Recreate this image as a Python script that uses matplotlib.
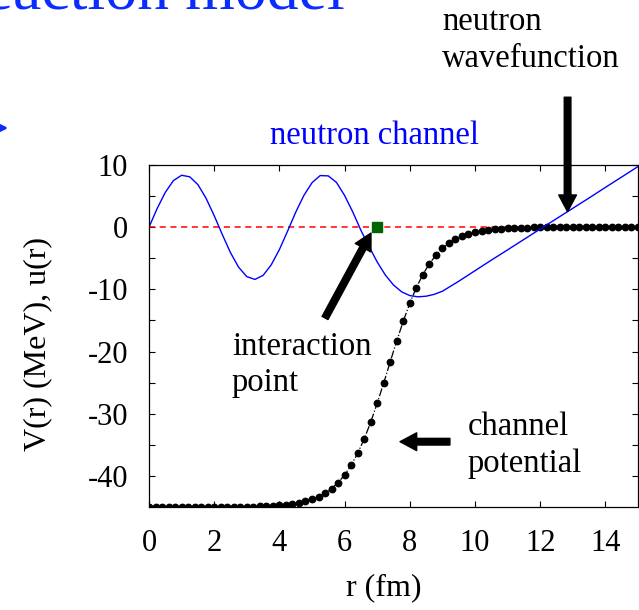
import matplotlib
matplotlib.use("Agg")
import matplotlib.pyplot as plt
import numpy as np

# neutron wavefunction u(r)
r_wave = [0.0, 0.25, 0.5, 0.75, 1.0, 1.25, 1.5, 1.75, 2.0, 2.25, 2.5, 2.75,
          3.0, 3.25, 3.5, 3.75, 4.0, 4.25, 4.5, 4.75, 5.0, 5.25, 5.5, 5.75,
          6.0, 6.25, 6.5, 6.75, 7.0, 7.25, 7.5, 7.75, 8.0, 8.25, 8.5, 8.75,
          9.0, 9.5, 10.0, 10.5, 11.0, 11.5, 12.0, 12.5, 13.0, 13.5, 14.0,
          14.5, 15.0]
u_wave = [0.0, 3.0, 5.6, 7.5, 8.35, 8.1, 6.85, 4.65, 1.85, -1.2, -4.1, -6.45,
          -7.95, -8.4, -7.75, -6.05, -3.6, -0.65, 2.4, 5.1, 7.15, 8.3, 8.25, 7.2,
          5.1, 2.45, -0.5, -3.1, -5.6, -7.7, -9.3, -10.4, -11.0, -11.2, -11.1,
          -10.8, -10.3, -8.7, -7.0, -5.3, -3.65, -1.97, -0.3, 1.37, 3.04, 4.7,
          6.4, 8.07, 9.75]

# channel potential V(r), sampled every 0.2 fm
r_pot = np.linspace(0, 15, 76)
v_pot = [-45.0] * 15 + [
    -44.94, -44.92, -44.89, -44.85, -44.79, -44.72, -44.62, -44.49, -44.31,
    -44.07, -43.76, -43.34, -42.78, -42.03, -41.08, -39.84, -38.29, -36.37,
    -34.07, -31.37, -28.33, -25.04, -21.64, -18.28, -15.11, -12.23, -9.73,
    -7.62, -5.89, -4.50, -3.41, -2.57, -1.93, -1.44, -1.07, -0.80, -0.59,
    -0.44, -0.33, -0.24, -0.18, -0.13, -0.10, -0.07, -0.05, -0.04, -0.03,
    -0.02, -0.02, -0.01] + [-0.01] * 11

r_point = [7.0]
v_point = [0.0]

x_ticks = [0, 2, 4, 6, 8, 10, 12, 14]
y_ticks = [-40, -30, -20, -10, 0, 10]
y_minor = [-35, -25, -15, -5, 5]

plt.rcParams['font.family'] = 'Liberation Serif'
plt.rcParams['axes.unicode_minus'] = False

fig = plt.figure(figsize=(6.39, 6.10), dpi=100)
ax = fig.add_axes([149/639, 103/610, 489/639, 342/610])

ax.axhline(0, color='#ff0000', lw=1.1, ls=(0, (4, 3)))
ax.plot(r_pot, v_pot, color='black', lw=0.9, ls='-.', marker='o', ms=4.6)
ax.plot(r_wave, u_wave, color='#0000ff', lw=1.0)
ax.plot(r_point, v_point, 's', color='#006400', ms=6.8, zorder=5)

ax.set_xlim(0, 15)
ax.set_ylim(-45, 10)
ax.set_xticks(x_ticks)
ax.set_yticks(y_ticks)
ax.set_yticks(y_minor, minor=True)
ax.tick_params(which='both', direction='in', top=True, right=True,
               length=4.5, width=0.8, labelsize=22)
ax.tick_params(axis='y', which='major', pad=15)
ax.tick_params(axis='x', which='major', pad=16)
for s in ax.spines.values():
    s.set_linewidth(0.9)

ax.set_xlabel('r (fm)', fontsize=23)
ax.xaxis.set_label_coords(0.48, -0.195)
ax.set_ylabel('V(r) (MeV), u(r)', fontsize=23)
ax.yaxis.set_label_coords(-0.198, 0.477)

# arrows
big = dict(arrowstyle='simple,head_length=0.75,head_width=0.8,tail_width=0.3',
           fc='black', ec='black', shrinkA=0, shrinkB=0, mutation_scale=16)
ax.annotate('', xy=(6.81, -0.94), xytext=(5.40, -14.6), arrowprops=big,
            annotation_clip=False)
ax.annotate('', xy=(12.84, 2.5), xytext=(12.84, 20.9), arrowprops=big,
            annotation_clip=False)
ax.annotate('', xy=(7.70, -34.5), xytext=(9.23, -34.5), arrowprops=big,
            annotation_clip=False)

# slide decorations
def px(x, y):
    return x / 639, 1 - y / 610

fig.text(*px(345, 10), 'Reaction model', color='#0a2cff', fontsize=46,
         ha='right', va='baseline')
fig.patches.append(matplotlib.patches.FancyArrowPatch(
    px(-30, 128), px(11, 128), transform=fig.transFigure,
    arrowstyle='-|>,head_length=0.6,head_width=0.3', mutation_scale=22,
    color='#0a2cff', lw=2))

fig.text(*px(270, 144), 'neutron channel', color='#0000ff', fontsize=23.5,
         va='baseline')
fig.text(*px(442, 30), 'neutron', fontsize=23.5, va='baseline')
fig.text(*px(442, 67), 'wavefunction', fontsize=23.5, va='baseline')
fig.text(*px(232, 355), 'interaction', fontsize=23.5, va='baseline')
fig.text(*px(232, 391), 'point', fontsize=23.5, va='baseline')
fig.text(*px(468, 435), 'channel', fontsize=23.5, va='baseline')
fig.text(*px(468, 472), 'potential', fontsize=23.5, va='baseline')

fig.savefig('out.png', dpi=100)
